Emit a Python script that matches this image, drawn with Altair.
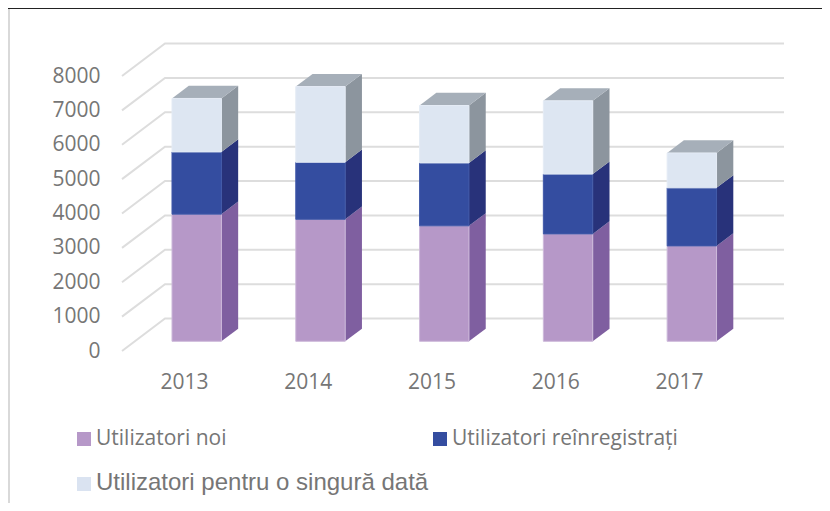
import altair as alt
import pandas as pd

years = [2013, 2014, 2015, 2016, 2017]
noi = [3700, 3550, 3360, 3125, 2775]
reinreg = [1810, 1660, 1830, 1740, 1690]
singura = [1555, 2200, 1670, 2130, 1015]
series_values = [noi, reinreg, singura]
ticks = [0, 1000, 2000, 3000, 4000, 5000, 6000, 7000, 8000]

front_colors = ["#B698C8", "#344DA0", "#DDE6F2"]
edge_colors = ["#CDB9DA", "#4059A8", "#E4EBF5"]
side_colors = ["#7F5FA0", "#28327A", "#8C959E"]
top_color = "#A6AFB9"
grid_color = "#DDDDDD"
text_color = "#767676"

PX_W, PX_H = 662.0, 275.0
x_min, x_max = 2012.5, 2017.848
x_unit = PX_W / (x_max - x_min)
y_unit = PX_H / 8000
wall_dx, wall_dy = 43 / x_unit, 32.5 / y_unit
half = 24.7 / x_unit
d0, d1 = 0.2977, 0.6877


def project(x, v, depth):
    return x + wall_dx * depth, v + wall_dy * depth


x_scale = alt.Scale(domain=[x_min, x_max], nice=False, zero=False)
y_scale = alt.Scale(domain=[0, 8000], nice=False, zero=False)
x_axis = alt.Axis(
    values=years, format="d", domain=False, ticks=False, grid=False,
    labelFont="Open Sans", labelFontSize=21, labelColor=text_color, labelPadding=20,
)
y_axis = alt.Axis(
    values=ticks, domain=False, ticks=False, grid=False, format="d",
    labelFont="Open Sans", labelFontSize=21, labelColor=text_color, labelPadding=22,
)
X = alt.X("x:Q", scale=x_scale, title=None, axis=x_axis)
Y = alt.Y("y:Q", scale=y_scale, title=None, axis=y_axis)

# gridlines on the wall and on the side
grid_rows = []
for t in ticks:
    x1, v1 = project(x_min, t, 0)
    x2, v2 = project(x_min, t, 1)
    x3, v3 = project(x_max - wall_dx, t, 1)
    for i, (a, b) in enumerate([(x1, v1), (x2, v2), (x3, v3)]):
        grid_rows.append({"id": t, "k": i, "x": a, "y": b})
grid = alt.Chart(pd.DataFrame(grid_rows)).mark_line(
    color=grid_color, strokeWidth=2, interpolate="linear"
).encode(x=X, y=Y, detail="id:N", order="k:O")

front_rows, side_rows, top_rows = [], [], []
for i, yr in enumerate(years):
    base = 0
    for s, vals in enumerate(series_values):
        v0, v1 = base, base + vals[i]
        base = v1
        xl, b0 = project(yr - half, v0, d0)
        xr, t0 = project(yr + half, v1, d0)
        front_rows.append({"x": xl, "x2": xr, "y": b0, "y2": t0,
                           "c": front_colors[s], "e": edge_colors[s]})
        sx0, sb0 = project(yr + half, v0, d0)
        sx1, sb1 = project(yr + half, v0, d1)
        _, st0 = project(yr + half, v1, d0)
        _, st1 = project(yr + half, v1, d1)
        sid = f"{yr}-{s}"
        side_rows.append({"id": sid, "x": sx0, "y": sb0, "y2": st0, "c": side_colors[s]})
        side_rows.append({"id": sid, "x": sx1, "y": sb1, "y2": st1, "c": side_colors[s]})
    # top face
    ax, ay = project(yr - half, base, d0)
    bx, by = project(yr - half, base, d1)
    cx, cy = project(yr + half, base, d0)
    dx, dy = project(yr + half, base, d1)
    top_rows += [
        {"id": yr, "x": ax, "y": ay, "y2": ay},
        {"id": yr, "x": bx, "y": by, "y2": ay},
        {"id": yr, "x": cx, "y": by, "y2": ay},
        {"id": yr, "x": dx, "y": by, "y2": by},
    ]

front = alt.Chart(pd.DataFrame(front_rows)).mark_rect(strokeWidth=1).encode(
    x=X,
    x2="x2:Q",
    y=Y,
    y2="y2:Q",
    color=alt.Color("c:N", scale=None),
    stroke=alt.Stroke("e:N", scale=None),
)
side = alt.Chart(pd.DataFrame(side_rows)).mark_area(interpolate="linear", opacity=1).encode(
    x=X,
    y=Y,
    y2="y2:Q",
    detail="id:N",
    color=alt.Color("c:N", scale=None),
)
top = alt.Chart(pd.DataFrame(top_rows)).mark_area(interpolate="linear", color=top_color, opacity=1).encode(
    x=X,
    y=Y,
    y2="y2:Q",
    detail="id:N",
)

# plot origin sits at page pixel (122, 76)
one = pd.DataFrame({"a": [0]})


def swatch(cx, cy, color):
    return alt.Chart(one).mark_square(size=196, color=color, opacity=1).encode(
        x=alt.value(cx), y=alt.value(cy)
    )


def label(px, py, txt, font, size):
    return alt.Chart(one).mark_text(
        text=txt, font=font, fontSize=size, color=text_color, align="left", baseline="middle"
    ).encode(x=alt.value(px), y=alt.value(py))


legend = [
    swatch(-38, 363, front_colors[0]),
    label(-26, 363, "Utilizatori noi", "Open Sans", 21),
    swatch(318, 363, front_colors[1]),
    label(330, 363, "Utilizatori reînregistrați", "Open Sans", 21),
    swatch(-38, 408, "#DAE3F1"),
    label(-26, 407, "Utilizatori pentru o singură dată", "Liberation Sans", 24),
]

frame_top = alt.Chart(one).mark_rule(color="#222222", strokeWidth=2).encode(
    x=alt.value(-114), x2=alt.value(700), y=alt.value(-68)
)
frame_left = alt.Chart(one).mark_rule(color="#D9D9D9", strokeWidth=2).encode(
    x=alt.value(-113), y=alt.value(-67), y2=alt.value(427)
)

chart = alt.layer(grid, side, top, front, frame_top, frame_left, *legend).properties(
    width=PX_W,
    height=PX_H,
    padding={"left": 114, "top": 68, "right": 38, "bottom": 152},
    autosize=alt.AutoSizeParams(type="none"),
    background="white",
).configure_view(stroke=None)

chart.save("out.html", embed_options={"renderer": "svg", "actions": False})
